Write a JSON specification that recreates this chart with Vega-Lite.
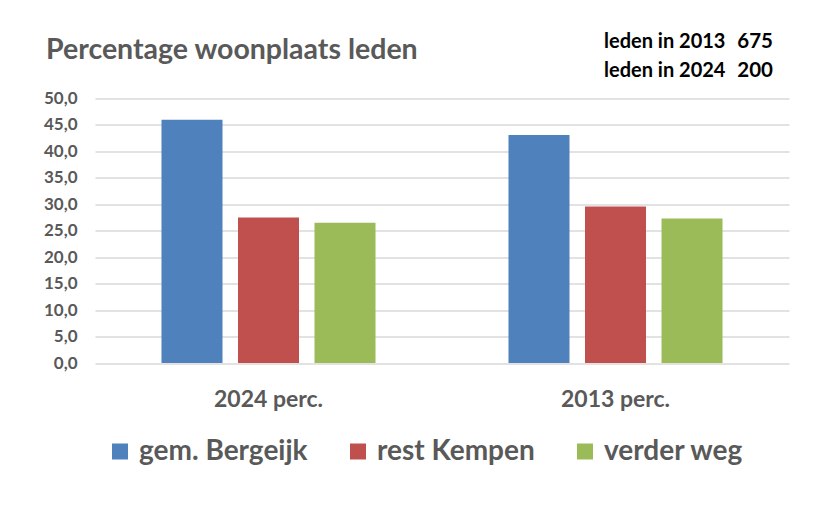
{
  "$schema": "https://vega.github.io/schema/vega-lite/v6.json",
  "width": 694,
  "height": 264.5,
  "autosize": "none",
  "padding": {"left": 95, "top": 98.5, "right": 35, "bottom": 164},
  "background": "white",
  "title": {
    "text": "Percentage woonplaats leden",
    "anchor": "start",
    "frame": "group",
    "dx": -49,
    "offset": -55,
    "baseline": "alphabetic",
    "font": "Lato",
    "fontSize": 28.5,
    "fontWeight": "bold",
    "color": "#595959"
  },
  "datasets": {
    "bars": [
      {"jaar": "2024 perc.", "woonplaats": "gem. Bergeijk", "pct": 46.0},
      {"jaar": "2024 perc.", "woonplaats": "rest Kempen", "pct": 27.5},
      {"jaar": "2024 perc.", "woonplaats": "verder weg", "pct": 26.5},
      {"jaar": "2013 perc.", "woonplaats": "gem. Bergeijk", "pct": 43.1},
      {"jaar": "2013 perc.", "woonplaats": "rest Kempen", "pct": 29.6},
      {"jaar": "2013 perc.", "woonplaats": "verder weg", "pct": 27.3}
    ],
    "leden": [
      {"label": "leden in 2013", "aantal": 675},
      {"label": "leden in 2024", "aantal": 200}
    ]
  },
  "layer": [
    {
      "data": {"name": "bars"},
      "mark": {"type": "bar"},
      "encoding": {
        "x": {
          "field": "jaar",
          "type": "nominal",
          "sort": ["2024 perc.", "2013 perc."],
          "scale": {"paddingInner": 0, "paddingOuter": 0},
          "axis": {
            "title": null,
            "domain": false,
            "ticks": false,
            "tickSize": 0,
            "labelPadding": 43,
            "labelBaseline": "alphabetic",
            "labelFont": "Lato",
            "labelFontSize": 23,
            "labelFontWeight": "bold",
            "labelColor": "#595959",
            "labelAngle": 0,
            "grid": false
          }
        },
        "xOffset": {
          "field": "woonplaats",
          "type": "nominal",
          "sort": ["gem. Bergeijk", "rest Kempen", "verder weg"],
          "scale": {"paddingInner": 0.2026, "paddingOuter": 0.869}
        },
        "y": {
          "field": "pct",
          "type": "quantitative",
          "scale": {"domain": [0, 50], "nice": false},
          "axis": {
            "title": null,
            "values": [0, 5, 10, 15, 20, 25, 30, 35, 40, 45, 50],
            "labelExpr": "replace(format(datum.value, '.1f'), '.', ',')",
            "domain": false,
            "ticks": false,
            "tickSize": 0,
            "labelPadding": 18,
            "labelFont": "Lato",
            "labelFontSize": 17,
            "labelFontWeight": "bold",
            "labelColor": "#595959",
            "grid": true,
            "gridColor": "#d9d9d9",
            "gridWidth": 1.6
          }
        },
        "color": {
          "field": "woonplaats",
          "type": "nominal",
          "scale": {
            "domain": ["gem. Bergeijk", "rest Kempen", "verder weg"],
            "range": ["#4F81BD", "#C0504D", "#9BBB59"]
          },
          "legend": {
            "title": null,
            "orient": "none",
            "direction": "horizontal",
            "legendX": 11,
            "legendY": 339,
            "symbolType": "square",
            "symbolSize": 256,
            "symbolStrokeWidth": 0,
            "symbolOpacity": 1,
            "labelFont": "Lato",
            "labelFontSize": 28,
            "labelFontWeight": "bold",
            "labelColor": "#595959",
            "labelOffset": 5,
            "columnPadding": 36,
            "labelLimit": 400
          }
        }
      }
    },
    {
      "data": {"name": "leden"},
      "mark": {"type": "text", "align": "left", "baseline": "alphabetic", "dx": -11.5, "font": "Lato", "fontSize": 20, "fontWeight": "bold", "color": "#000000"},
      "encoding": {
        "x": {"datum": "2013 perc."},
        "y": {"field": "label", "type": "nominal", "sort": ["leden in 2013", "leden in 2024"], "scale": {"type": "point", "range": [-50.2, -21.2], "padding": 0}, "axis": null},
        "text": {"field": "label"}
      }
    },
    {
      "data": {"name": "leden"},
      "mark": {"type": "text", "align": "right", "baseline": "alphabetic", "dx": 157.5, "font": "Lato", "fontSize": 20.5, "fontWeight": "bold", "color": "#000000"},
      "encoding": {
        "x": {"datum": "2013 perc."},
        "y": {"field": "label", "type": "nominal", "sort": ["leden in 2013", "leden in 2024"], "scale": {"type": "point", "range": [-50.2, -21.2], "padding": 0}, "axis": null},
        "text": {"field": "aantal", "type": "quantitative"}
      }
    }
  ],
  "resolve": {"scale": {"y": "independent"}},
  "config": {
    "view": {"stroke": null}
  }
}
